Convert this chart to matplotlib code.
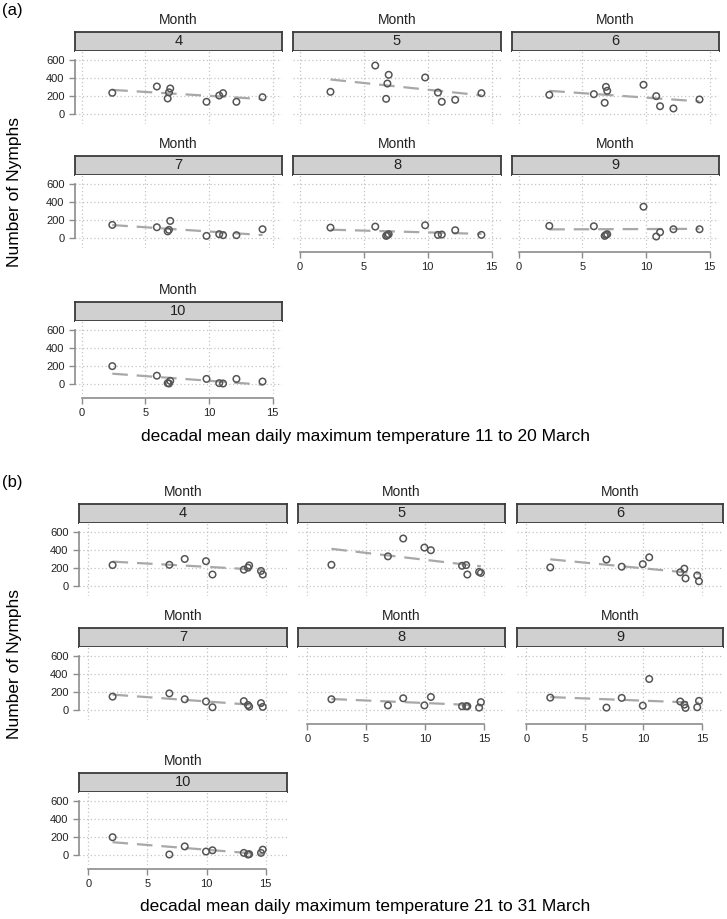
import matplotlib
matplotlib.use("Agg")
import matplotlib.pyplot as plt
import numpy as np

plt.rcParams['font.family'] = ['Liberation Sans', 'DejaVu Sans']

W, H = 727, 919

months = [4, 5, 6, 7, 8, 9, 10]

# (a) decadal mean daily max temperature 11-20 March
temp_a = [2.4, 5.9, 6.75, 6.85, 6.95, 9.8, 10.8, 11.1, 12.15, 14.2]
a_m4 = [230, 300, 167, 235, 278, 130, 200, 226, 130, 181]
a_m5 = [241, 533, 163, 333, 430, 400, 233, 130, 152, 226]
a_m6 = [207, 215, 119, 296, 252, 319, 193, 81, 56, 156]
a_m7 = [140, 114, 68, 85, 184, 18, 37, 26, 26, 92]
a_m8 = [110, 121, 18, 26, 37, 136, 29, 33, 81, 29]
a_m9 = [129, 125, 18, 29, 37, 342, 11, 59, 92, 92]
a_m10 = [193, 87, 4, 0, 29, 51, 4, 0, 51, 22]

# (b) decadal mean daily max temperature 21-31 March
temp_b = [2.05, 6.85, 8.15, 9.95, 10.5, 13.15, 13.5, 13.6, 14.6, 14.75]
b_m4 = [227, 230, 295, 270, 122, 176, 198, 223, 162, 122]
b_m5 = [230, 324, 522, 421, 392, 219, 227, 122, 151, 140]
b_m6 = [201, 288, 209, 237, 313, 147, 187, 79, 112, 47]
b_m7 = [143, 179, 114, 89, 25, 93, 50, 32, 71, 29]
b_m8 = [114, 46, 125, 46, 139, 36, 36, 36, 21, 82]
b_m9 = [132, 21, 129, 43, 339, 89, 54, 18, 25, 96]
b_m10 = [192, 0, 90, 33, 47, 18, 0, 4, 18, 54]

xticks = [0, 5, 10, 15]
yticks = [0, 200, 400, 600]

parts = [
    dict(tag='(a)', temp=temp_a,
         counts=[a_m4, a_m5, a_m6, a_m7, a_m8, a_m9, a_m10],
         cols=[(75, 282), (293, 501), (512, 719)],
         strip_tops=[32, 156, 302], xlim=(-0.53, 15.73),
         tag_y=10, ylab_y=192, xlab_y=437,
         xlabel='decadal mean daily maximum temperature 11 to 20 March'),
    dict(tag='(b)', temp=temp_b,
         counts=[b_m4, b_m5, b_m6, b_m7, b_m8, b_m9, b_m10],
         cols=[(79, 287), (298, 505), (517, 723)],
         strip_tops=[504, 628, 773], xlim=(-0.79, 16.8),
         tag_y=483, ylab_y=664, xlab_y=907,
         xlabel='decadal mean daily maximum temperature 21 to 31 March'),
]

STRIP_H = 18.5
PANEL_H = 73
GRID_C = '#c4c4c4'
AXIS_C = '#8c8c8c'


def box(x0, y0, x1, y1):
    return [x0 / W, 1 - y1 / H, (x1 - x0) / W, (y1 - y0) / H]


fig = plt.figure(figsize=(W / 100, H / 100), dpi=100)

for part in parts:
    x = np.array(part['temp'])
    fig.text(2 / W, 1 - part['tag_y'] / H, part['tag'], fontsize=12,
             ha='left', va='center')
    for i, (m, y) in enumerate(zip(months, part['counts'])):
        row, col = divmod(i, 3)
        x0, x1 = part['cols'][col]
        top = part['strip_tops'][row]

        # strip
        sax = fig.add_axes(box(x0, top, x1, top + STRIP_H))
        sax.set_facecolor('#d0d0d0')
        sax.set_xticks([])
        sax.set_yticks([])
        for s in sax.spines.values():
            s.set_color('#3a3a3a')
            s.set_linewidth(1.3)
        sax.text(0.5, 0.5, str(m), transform=sax.transAxes, ha='center',
                 va='center', fontsize=10.5, color='#222222')
        fig.text((x0 + x1) / 2 / W, 1 - (top - 12) / H, 'Month',
                 ha='center', va='center', fontsize=10, color='#222222')

        # panel
        ax = fig.add_axes(box(x0, top + STRIP_H, x1, top + STRIP_H + PANEL_H))
        ax.set_xlim(*part['xlim'])
        ax.set_ylim(-111, 700)
        for t in xticks:
            ax.axvline(t, color=GRID_C, lw=0.9, ls=(0, (1, 2)), zorder=0)
        for t in yticks:
            ax.axhline(t, color=GRID_C, lw=0.9, ls=(0, (1, 2)), zorder=0)

        y = np.array(y)
        k, b0 = np.polyfit(x, y, 1)
        xs = np.array([x.min(), x.max()])
        ax.plot(xs, k * xs + b0, color='#a8a8a8', lw=1.6,
                dashes=(7, 4), zorder=1)
        ax.scatter(x, y, s=22, facecolors='none', edgecolors='#555555',
                   linewidths=1.1, zorder=2)

        for s in ['top', 'right']:
            ax.spines[s].set_visible(False)
        ax.tick_params(colors=AXIS_C, labelcolor='#222222', labelsize=8,
                       length=4, width=1)

        if col == 0:
            ax.spines['left'].set_color(AXIS_C)
            ax.spines['left'].set_linewidth(1.2)
            ax.spines['left'].set_bounds(0, 600)
            ax.set_yticks(yticks)
        else:
            ax.spines['left'].set_visible(False)
            ax.set_yticks([])

        has_below = i + 3 < len(months)
        if not has_below:
            ax.spines['bottom'].set_position(('outward', 3))
            ax.spines['bottom'].set_color(AXIS_C)
            ax.spines['bottom'].set_linewidth(1.2)
            ax.spines['bottom'].set_bounds(0, 15)
            ax.set_xticks(xticks)
        else:
            ax.spines['bottom'].set_visible(False)
            ax.set_xticks([])

    fig.text(365 / W, 1 - part['xlab_y'] / H, part['xlabel'], fontsize=12.5,
             ha='center', va='center')
    fig.text(15 / W, 1 - part['ylab_y'] / H, 'Number of Nymphs', fontsize=12.5,
             ha='center', va='center', rotation=90)

fig.savefig('out.png', dpi=100)
